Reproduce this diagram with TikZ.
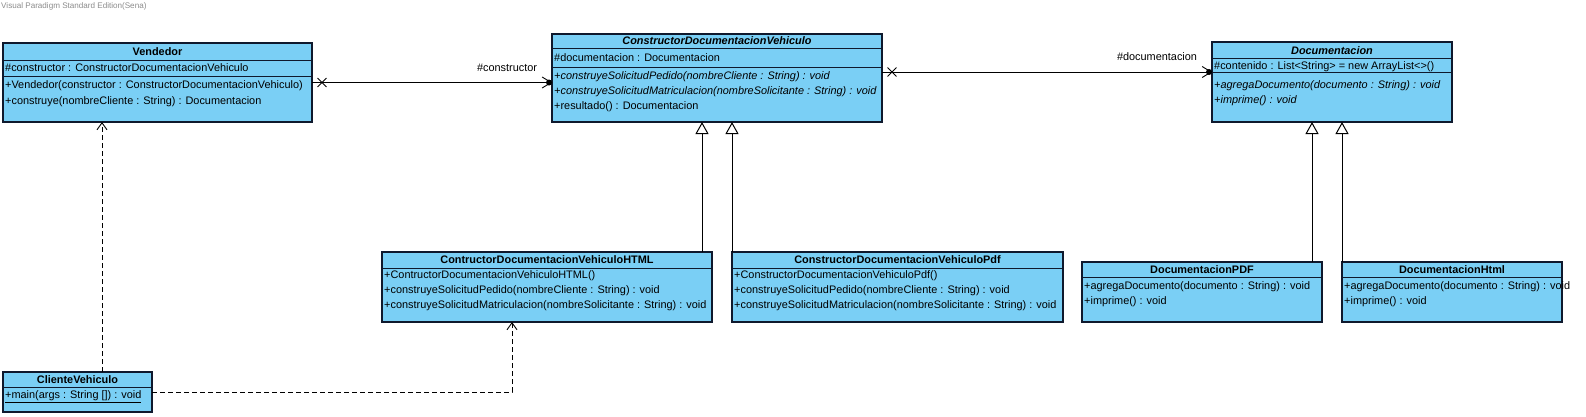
\documentclass[tikz,border=0pt]{standalone}
\usepackage{fontspec}
\setmainfont{Liberation Sans}
\usetikzlibrary{arrows.meta,calc,shapes.misc}
\definecolor{vpblue}{RGB}{122,207,245}
\definecolor{vpline}{RGB}{15,25,45}
\definecolor{wmgray}{RGB}{140,140,140}
\tikzset{
  cls/.style={draw=vpline, fill=vpblue, line width=1.2pt, inner sep=0pt, outer sep=0pt, anchor=north west},
  sepline/.style={draw=vpline, line width=1pt},
  tx/.style={anchor=west, inner sep=0pt, font=\fontsize{10.9}{13}\selectfont},
  ttl/.style={inner sep=0pt, font=\fontsize{10.9}{13}\selectfont\bfseries},
  attl/.style={inner sep=0pt, font=\fontsize{10.9}{13}\selectfont\bfseries\itshape},
  lbl/.style={inner sep=0pt, font=\fontsize{10.9}{13}\selectfont},
  assoc/.style={draw=black, line width=0.9pt, -{Straight Barb[length=9pt,width=11pt,line width=0.9pt]}},
  xmark/.style={cross out, draw=black, line width=0.9pt, minimum size=8pt, inner sep=0pt},
  gen/.style={draw=black, line width=1pt, -{Triangle[open,length=12pt,width=13pt,fill=white,line width=1pt]}},
  dep/.style={draw=black, line width=0.9pt, dash pattern=on 5pt off 3pt, -{Straight Barb[length=7pt,width=10pt,line width=0.9pt]}}
}
\begin{document}
\begin{tikzpicture}[x=1pt,y=-1pt]
\useasboundingbox (0,0) rectangle (1586,416);
\fill[white] (0,0) rectangle (1586,416);
% watermark
\node[anchor=west, inner sep=0pt, text=wmgray, font=\fontsize{8.1}{10}\selectfont] (wm) at (1,6.5) {Visual Paradigm Standard Edition(Sena)};

% Vendedor
\node[cls, minimum width=309pt, minimum height=79pt] (vend) at (3,43) {};
\node[ttl] (vendt) at (157.5,51.5) {Vendedor};
\draw[sepline] (3,60) -- (312,60);
\draw[sepline] (3,76) -- (312,76);
\node[tx] (vend1) at (5,68) {\#constructor : ConstructorDocumentacionVehiculo};
\node[tx] (vend2) at (5,86) {+Vendedor(constructor : ConstructorDocumentacionVehiculo)};
\node[tx] (vend3) at (5,101.5) {+construye(nombreCliente : String) : Documentacion};

% ConstructorDocumentacionVehiculo
\node[cls, minimum width=330pt, minimum height=88pt] (con) at (552,34) {};
\node[attl] (cont) at (717,41) {ConstructorDocumentacionVehiculo};
\draw[sepline] (552,48) -- (882,48);
\draw[sepline] (552,67) -- (882,67);
\node[tx] (con1) at (554,57.5) {\#documentacion : Documentacion};
\node[tx] (con2) at (554,76.5) {\itshape +construyeSolicitudPedido(nombreCliente : String) : void};
\node[tx] (con3) at (554,91.5) {\itshape +construyeSolicitudMatriculacion(nombreSolicitante : String) : void};
\node[tx] (con4) at (554,106.5) {+resultado() : Documentacion};

% Documentacion
\node[cls, minimum width=240pt, minimum height=80pt] (doc) at (1212,42) {};
\node[attl] (doct) at (1332,50.5) {Documentacion};
\draw[sepline] (1212,58) -- (1452,58);
\draw[sepline] (1212,72) -- (1452,72);
\node[tx] (doc1) at (1214,66.5) {\#contenido : List<String> = new ArrayList<>()};
\node[tx] (doc2) at (1214,86) {\itshape +agregaDocumento(documento : String) : void};
\node[tx] (doc3) at (1214,101) {\itshape +imprime() : void};

% ContructorDocumentacionVehiculoHTML
\node[cls, minimum width=330pt, minimum height=70pt] (html) at (382,252) {};
\node[ttl] (htmlt) at (547,260) {ContructorDocumentacionVehiculoHTML};
\draw[sepline] (382,268) -- (712,268);
\node[tx] (html1) at (384,276) {+ContructorDocumentacionVehiculoHTML()};
\node[tx] (html2) at (384,291) {+construyeSolicitudPedido(nombreCliente : String) : void};
\node[tx] (html3) at (384,306) {+construyeSolicitudMatriculacion(nombreSolicitante : String) : void};

% ConstructorDocumentacionVehiculoPdf
\node[cls, minimum width=331pt, minimum height=70pt] (pdf) at (732,252) {};
\node[ttl] (pdft) at (897.5,260) {ConstructorDocumentacionVehiculoPdf};
\draw[sepline] (732,268) -- (1063,268);
\node[tx] (pdf1) at (734,276) {+ConstructorDocumentacionVehiculoPdf()};
\node[tx] (pdf2) at (734,291) {+construyeSolicitudPedido(nombreCliente : String) : void};
\node[tx] (pdf3) at (734,306) {+construyeSolicitudMatriculacion(nombreSolicitante : String) : void};

% DocumentacionPDF
\node[cls, minimum width=240pt, minimum height=60pt] (dpdf) at (1082,262) {};
\node[ttl] (dpdft) at (1202,269.5) {DocumentacionPDF};
\draw[sepline] (1082,277) -- (1322,277);
\node[tx] (dpdf1) at (1084,286.5) {+agregaDocumento(documento : String) : void};
\node[tx] (dpdf2) at (1084,302) {+imprime() : void};

% DocumentacionHtml
\node[cls, minimum width=220pt, minimum height=60pt] (dhtml) at (1342,262) {};
\node[ttl] (dhtmlt) at (1452,269.5) {DocumentacionHtml};
\draw[sepline] (1342,277) -- (1562,277);
\node[tx] (dhtml1) at (1344,286.5) {+agregaDocumento(documento : String) : void};
\node[tx] (dhtml2) at (1344,302) {+imprime() : void};

% ClienteVehiculo
\node[cls, minimum width=149pt, minimum height=40pt] (cli) at (3,372) {};
\node[ttl] (clit) at (77.5,380) {ClienteVehiculo};
\draw[sepline] (3,387) -- (152,387);
\node[tx] (cli1) at (5,397) {\underline{+main(args : String []) : void}};

% associations
\draw[assoc] (vend.east) -- (vend.east -| con.west);
\fill (549,82.5) circle (3pt);
\node[xmark] (x1) at ($(vend.east)+(10,0)$) {};
\node[lbl] (l1) at (507,67.5) {\#constructor};

\coordinate (a2s) at ($(con.north east)+(0,38)$);
\draw[assoc] (a2s) -- (a2s -| doc.west);
\fill (1209,72) circle (3pt);
\node[xmark] (x2) at ($(a2s)+(10,0)$) {};
\node[lbl] (l2) at (1157,57) {\#documentacion};

% generalizations
\coordinate (g1) at ($(html.north east)+(-10,0)$);
\draw[gen] (g1) -- (g1 |- con.south);
\draw[gen] (pdf.north west) -- (pdf.north west |- con.south);
\coordinate (g3) at ($(dpdf.north east)+(-10,0)$);
\draw[gen] (g3) -- (g3 |- doc.south);
\draw[gen] (dhtml.north west) -- (dhtml.north west |- doc.south);

% dependencies
\coordinate (d1) at ($(cli.north west)+(99,0)$);
\draw[dep] (d1) -- (d1 |- vend.south);
\coordinate (d2) at ($(html.south west)+(130,0)$);
\draw[dep] (cli.east) -| (d2);
\end{tikzpicture}
\end{document}
